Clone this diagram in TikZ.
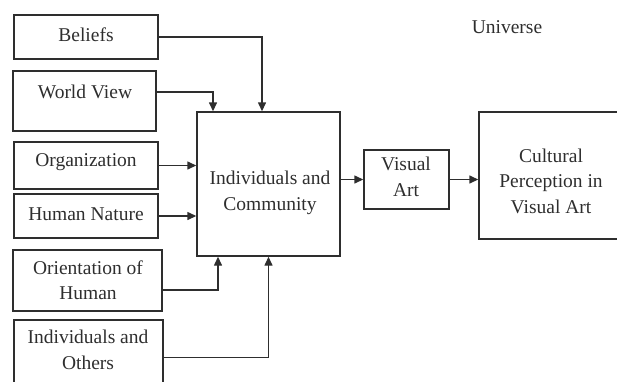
\documentclass[tikz,border=0pt]{standalone}
\usepackage{fontspec}
\setmainfont{Liberation Serif}
\usetikzlibrary{arrows.meta}
\definecolor{ink}{HTML}{2E2E2E}
\begin{document}
\begin{tikzpicture}[x=1pt,y=-1pt,
  box/.style={draw=ink,line width=1.4pt,inner sep=0pt},
  txt/.style={text=ink,font=\fontsize{19.5}{25.5}\selectfont,align=center,inner sep=0pt},
  arr/.style={draw=ink,line width=1.4pt,-{Triangle[length=9pt,width=8pt]}}]
\useasboundingbox (0,0) rectangle (617,381);
\clip (0,0) rectangle (617,381);
% boxes
\node[box,minimum width=144pt,minimum height=44pt] (beliefs) at (86,37) {};
\node[box,minimum width=143pt,minimum height=60pt] (world) at (84.5,101) {};
\node[box,minimum width=144pt,minimum height=47pt] (org) at (86,165.5) {};
\node[box,minimum width=144pt,minimum height=44pt] (hn) at (86,216) {};
\node[box,minimum width=149pt,minimum height=61pt] (orient) at (87.5,280.5) {};
\node[box,minimum width=149pt,minimum height=75pt] (others) at (88.5,357.5) {};
\node[box,minimum width=143pt,minimum height=144pt] (main) at (268.5,184) {};
\node[box,minimum width=85pt,minimum height=59pt] (visual) at (406.5,179.5) {};
\node[box,minimum width=151pt,minimum height=127pt] (cult) at (554.5,175.5) {};
% texts
\node[txt] (tbeliefs) at (86,35) {Beliefs};
\node[txt] (tworld) at (85,92) {World View};
\node[txt] (torg) at (86,162) {Organization};
\node[txt] (thn) at (86,214) {Human Nature};
\node[txt] (torient) at (88,280) {Orientation of\\Human};
\node[txt] (tothers) at (88,350) {Individuals and\\Others};
\node[txt] (tmain) at (270,193) {Individuals and\\Community};
\node[txt] (tvisual) at (406,177) {Visual\\Art};
\node[txt] (tcult) at (551,181) {Cultural\\Perception in\\Visual Art};
\node[txt] (universe) at (507,27) {Universe};
% connectors
\draw[arr] (beliefs.east) -| ([xshift=-6.5pt]main.north);
\draw[arr] ([yshift=9pt]world.east) -| ([xshift=-55.5pt]main.north);
\draw[arr] (org.east) -- (org.east -| main.west);
\draw[arr] (hn.east) -- (hn.east -| main.west);
\draw[arr] ([yshift=-9.5pt]orient.east) -| ([xshift=-50.5pt]main.south);
\draw[arr] (others.east) -| (main.south);
\draw[arr] (main.east |- visual.west) -- (visual.west);
\draw[arr] (visual.east) -- (cult.west |- visual.east);
\end{tikzpicture}
\end{document}
